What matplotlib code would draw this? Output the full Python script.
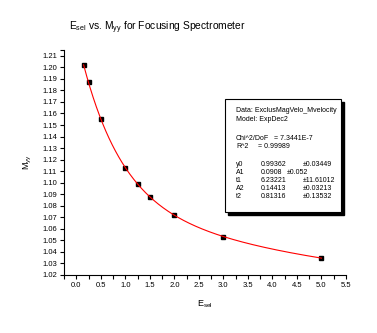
import matplotlib
matplotlib.use("Agg")
import matplotlib.pyplot as plt
from matplotlib.ticker import MultipleLocator, FixedLocator, FormatStrFormatter
import numpy as np

plt.rcParams['font.family'] = ['Liberation Sans', 'DejaVu Sans']
plt.rcParams['mathtext.default'] = 'regular'

# measured points
e_sel = [0.15, 0.25, 0.5, 1.0, 1.25, 1.5, 2.0, 3.0, 5.0]
m_yy = [1.2020, 1.1875, 1.1550, 1.1130, 1.0988, 1.0880, 1.0718, 1.0532, 1.0347]

# ExpDec2 fit parameters as printed in the box
y0, A1, t1, A2, t2 = 0.99362, 0.0908, 6.23221, 0.14413, 0.81316
fit_rows = [("y0", "0.99362", "\u00b10.03449"),
            ("A1", "0.0908", "\u00b10.052"),
            ("t1", "6.23221", "\u00b111.61012"),
            ("A2", "0.14413", "\u00b10.03213"),
            ("t2", "0.81316", "\u00b10.13532")]

W, H = 377, 333
fig = plt.figure(figsize=(W / 100, H / 100), dpi=100)
ax = fig.add_axes([64 / W, 1 - 275 / H, (346 - 64) / W, (275 - 50) / H])

xf = np.linspace(e_sel[0], e_sel[-1], 300)
yf = y0 + A1 * np.exp(-xf / t1) + A2 * np.exp(-xf / t2)

ax.plot(e_sel, m_yy, 's', color='black', ms=3.3, zorder=2)
ax.plot(xf, yf, color='red', lw=0.8, zorder=3)

ax.set_xlim(-0.25, 5.5)
ax.set_ylim(1.02, 1.215)
ax.xaxis.set_major_locator(MultipleLocator(0.5))
ax.xaxis.set_minor_locator(MultipleLocator(0.25))
ax.xaxis.set_major_formatter(FormatStrFormatter('%.1f'))
ax.yaxis.set_major_locator(MultipleLocator(0.01))
ax.yaxis.set_minor_locator(FixedLocator([1.215]))
ax.yaxis.set_major_formatter(FormatStrFormatter('%.2f'))
for s in ['top', 'right']:
    ax.spines[s].set_visible(False)
for s in ['left', 'bottom']:
    ax.spines[s].set_linewidth(0.8)
ax.tick_params(which='both', direction='out', length=3, width=0.8, labelsize=5.5, pad=2)
ax.tick_params(which='minor', length=3)

ax.set_xlabel("E$_{sel}$", fontsize=6.5, labelpad=7)
ax.set_ylabel("M$_{yy}$", fontsize=6.5, labelpad=6)
fig.text(69 / W, 1 - 28 / H, "E$_{sel}$ vs. M$_{yy}$ for Focusing Spectrometer",
         fontsize=7.4, ha='left', va='center')

# fit results box with shadow
bx0, by0, bx1, by1 = 225, 99, 341, 212
fig.patches.append(plt.Rectangle(((bx0 + 3) / W, 1 - (by1 + 3) / H), (bx1 - bx0) / W,
                                 (by1 - by0) / H, transform=fig.transFigure,
                                 facecolor='black', edgecolor='black', zorder=5))
fig.patches.append(plt.Rectangle((bx0 / W, 1 - by1 / H), (bx1 - bx0) / W, (by1 - by0) / H,
                                 transform=fig.transFigure, facecolor='white',
                                 edgecolor='black', lw=0.8, zorder=6))

fs = 5.0
def t(x, y, s):
    fig.text(x / W, 1 - y / H, s, fontsize=fs, ha='left', va='center', zorder=7)

t(236, 111, "Data: ExclusMagVelo_Mvelocity")
t(236, 119, "Model: ExpDec2")
t(236, 138, "Chi^2/DoF")
t(274, 138, "= 7.3441E-7")
t(236, 147, "R^2")
t(258, 147, "= 0.99989")
rows_y = [164, 172, 180, 188, 197]
for (name, val, err), yy in zip(fit_rows, rows_y):
    t(236, yy, name)
    t(261, yy, val)
    t(287 if name == "A1" else 303, yy, err)

fig.savefig("out.png", dpi=100)
